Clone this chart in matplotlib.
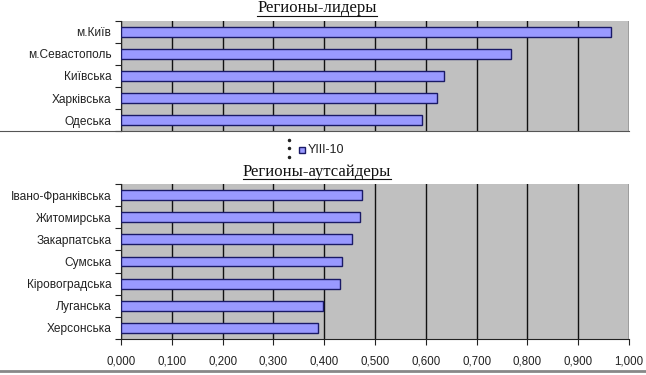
import matplotlib
matplotlib.use("Agg")
import matplotlib.pyplot as plt
from matplotlib.lines import Line2D
from matplotlib.patches import Rectangle
from matplotlib.ticker import FuncFormatter, MultipleLocator, FixedLocator

leaders = ['м.Київ', 'м.Севастополь', 'Київська', 'Харківська', 'Одеська']
leader_values = [0.965, 0.767, 0.635, 0.622, 0.593]

outsiders = ['Івано-Франківська', 'Житомирська', 'Закарпатська', 'Сумська',
             'Кіровоградська', 'Луганська', 'Херсонська']
outsider_values = [0.474, 0.470, 0.454, 0.435, 0.431, 0.398, 0.388]

series_name = 'YIII-10'
title_top = 'Регионы-лидеры'
title_bottom = 'Регионы-аутсайдеры'

W, H = 646, 375
fig = plt.figure(figsize=(W / 100, H / 100), dpi=100)
fig.patch.set_facecolor('white')

BAR = '#9999FF'
EDGE = '#1a1a66'
BG = '#C0C0C0'
SANS = ['Liberation Sans', 'DejaVu Sans']
SERIF = ['Liberation Serif', 'DejaVu Serif']


def px(x0, y0, x1, y1):
    return [x0 / W, 1 - y1 / H, (x1 - x0) / W, (y1 - y0) / H]


def style(ax, cats, vals, show_x):
    n = len(cats)
    ax.set_facecolor(BG)
    ax.barh(range(n), vals, height=0.45, color=BAR, edgecolor=EDGE,
            linewidth=1.0, zorder=3)
    ax.set_xlim(0, 1.0)
    ax.set_ylim(n - 0.5, -0.5)
    ax.xaxis.set_major_locator(MultipleLocator(0.1))
    ax.grid(axis='x', color='#111111', linewidth=1.0, zorder=1)
    ax.set_axisbelow(True)
    ax.set_yticks(range(n))
    ax.set_yticklabels(cats, fontfamily=SANS, fontsize=8.6, color='#222222')
    ax.yaxis.set_minor_locator(FixedLocator([i + 0.5 for i in range(-1, n)]))
    ax.tick_params(axis='y', which='major', length=0, pad=7)
    ax.tick_params(axis='y', which='minor', length=4, width=0.8,
                   color='#222222', direction='out')
    for s in ['top', 'right']:
        ax.spines[s].set_visible(False)
    ax.spines['left'].set_color('#222222')
    ax.spines['left'].set_linewidth(0.8)
    if show_x:
        ax.xaxis.set_major_formatter(FuncFormatter(
            lambda v, p: f'{v:.3f}'.replace('.', ',')))
        ax.tick_params(axis='x', length=4, width=0.8, color='#222222',
                       labelsize=8.3, pad=8, labelcolor='#222222')
        for lab in ax.get_xticklabels():
            lab.set_fontfamily(SANS)
        ax.spines['bottom'].set_color('#222222')
        ax.spines['bottom'].set_linewidth(0.8)
    else:
        ax.tick_params(axis='x', length=0, labelbottom=False)
        ax.spines['bottom'].set_color('#555555')
        ax.spines['bottom'].set_linewidth(0.8)


ax1 = fig.add_axes(px(121, 21, 629, 131))
style(ax1, leaders, leader_values, False)
ax2 = fig.add_axes(px(121, 184, 629, 339))
style(ax2, outsiders, outsider_values, True)

# titles (underlined serif)
for txt, y, ul in [(title_top, 8.5, 15.5), (title_bottom, 171.5, 179)]:
    t = fig.text(317 / W, 1 - y / H, txt, ha='center', va='center',
                 fontfamily=SERIF, fontsize=12, color='#111111')
    fig.canvas.draw()
    bb = t.get_window_extent()
    fig.add_artist(Line2D([bb.x0 / W, bb.x1 / W], [1 - ul / H, 1 - ul / H],
                          color='#111111', linewidth=0.8))

# separator lines
fig.add_artist(Line2D([0, 121 / W], [1 - 131 / H, 1 - 131 / H],
                      color='#555555', linewidth=0.8))
fig.add_artist(Line2D([0, 1], [1 - 371 / H, 1 - 371 / H],
                      color='#888888', linewidth=2.0))

# legend
fig.add_artist(Rectangle((299 / W, 1 - 153 / H), 6 / W, 6 / H,
                         facecolor=BAR, edgecolor=EDGE, linewidth=1.0))
fig.text(308 / W, 1 - 150 / H, series_name, ha='left', va='center',
         fontfamily=SANS, fontsize=9, color='#222222')
for yy in [140, 148, 157]:
    fig.add_artist(Line2D([289 / W], [1 - yy / H], marker='o', markersize=1.5,
                          color='#222222', linestyle='none'))

fig.savefig('out.png', dpi=100, facecolor='white')
